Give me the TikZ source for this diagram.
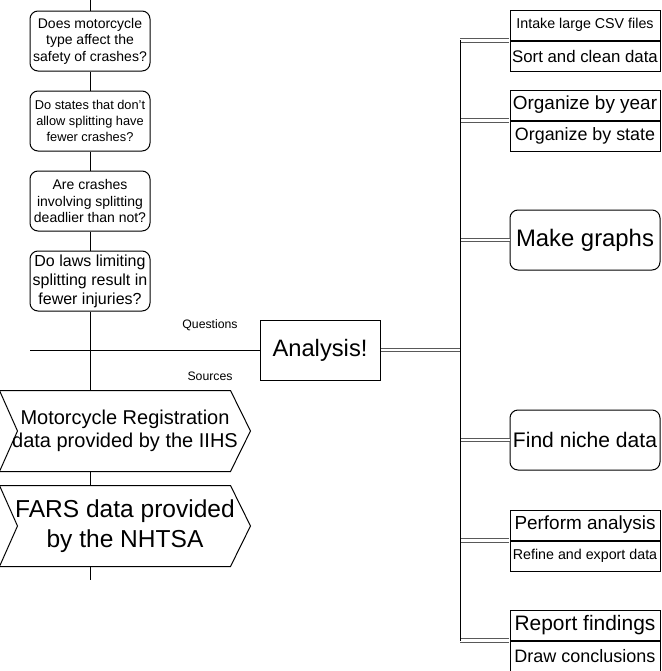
\documentclass[tikz,border=0pt]{standalone}
\usepackage{fontspec}
\setmainfont{Liberation Sans}
\usetikzlibrary{positioning}

\newcommand{\pxfont}[2]{\fontsize{#1}{#2}\selectfont}

\tikzset{
  question/.style={draw, rounded corners=6pt, minimum width=90pt, minimum height=45pt, align=center, inner sep=1pt},
  task/.style={draw, minimum width=112.5pt, minimum height=22.5pt, inner sep=0pt},
  bigtask/.style={draw, rounded corners=6pt, minimum width=112.5pt, minimum height=45pt, inner sep=0pt},
  source/.style={minimum width=187.5pt, minimum height=60pt, align=center, inner sep=0pt},
  link/.style={double, double distance=2pt, line width=0.8pt, draw=black!65},
}

\begin{document}
\begin{tikzpicture}[x=0.75pt, y=-0.75pt, line width=0.75pt]
\useasboundingbox (0,0) rectangle (661,671);
% questions
\node[question, font=\pxfont{10.5}{12.4}] (q1) at (90,41) {Does motorcycle\\type affect the\\safety of crashes?};
\node[question, font=\pxfont{9.6}{12}] (q2) at (90,121) {Do states that don't\\allow splitting have\\fewer crashes?};
\node[question, font=\pxfont{10.5}{12.4}] (q3) at (90,201) {Are crashes\\involving splitting\\deadlier than not?};
\node[question, font=\pxfont{12}{14.2}] (q4) at (90,281) {Do laws limiting\\splitting result in\\fewer injuries?};
% sources
\node[source, font=\pxfont{15}{17.6}] (src1) at (125,431) {Motorcycle Registration\\data provided by the IIHS};
\node[source, font=\pxfont{18.4}{22.5}] (src2) at (125,526) {FARS data provided\\by the NHTSA};
\foreach \s in {src1,src2}
  \draw (\s.north west) -- ([xshift=-15pt]\s.north east) -- (\s.east) -- ([xshift=-15pt]\s.south east) -- (\s.south west) -- ([xshift=13.5pt]\s.west) -- cycle;
\coordinate (spinetop) at (90,0);
\coordinate (spinebot) at (90,580);
\draw (spinetop) -- (q1) (q1) -- (q2) (q2) -- (q3) (q3) -- (q4);
\draw (q4.south) -- (q4.south |- src1.north);
\draw (q4.south |- src1.south) -- (q4.south |- src2.north);
\draw (q4.south |- src2.south) -- (spinebot);
% center
\node[draw, minimum width=90pt, minimum height=45pt, font=\pxfont{17.8}{20}] (analysis) at (320,350) {Analysis!};
\coordinate (qleft) at (30,350);
\draw (qleft) -- (analysis.west);
\node[font=\pxfont{9.2}{11}] (qlabel) at (210,325) {Questions};
\node[font=\pxfont{9.2}{11}] (slabel) at (210,376) {Sources};
% steps
\node[task, font=\pxfont{10.7}{12}] (intake) at (585,25) {Intake large CSV files};
\node[task, font=\pxfont{12.6}{14}, below=0pt of intake] (sort) {Sort and clean data};
\node[task, font=\pxfont{14.2}{16}] (year) at (585,105) {Organize by year};
\node[task, font=\pxfont{13.4}{15}, below=0pt of year] (state) {Organize by state};
\node[bigtask, font=\pxfont{17.9}{20}] (graphs) at (585,240) {Make graphs};
\node[bigtask, font=\pxfont{15.8}{18}] (niche) at (585,440) {Find niche data};
\node[task, font=\pxfont{14.2}{16}] (perform) at (585,525) {Perform analysis};
\node[task, font=\pxfont{10.7}{12}, below=0pt of perform] (refine) {Refine and export data};
\node[task, font=\pxfont{15.7}{17}] (report) at (585,625) {Report findings};
\node[task, font=\pxfont{13.5}{15}, below=0pt of report] (conclude) {Draw conclusions};
\coordinate (rtop) at (460,40);
\coordinate (rbot) at (460,641);
\draw[link] (analysis.east) -- (analysis.east -| rtop);
\foreach \t in {intake,year,perform,report}
  \draw[link] (rtop |- \t.south west) -- ([xshift=-0.4pt]\t.south west);
\foreach \t in {graphs,niche}
  \draw[link] (rtop |- \t.west) -- (\t.west);
\draw (rtop) -- (rbot);
\end{tikzpicture}
\end{document}
